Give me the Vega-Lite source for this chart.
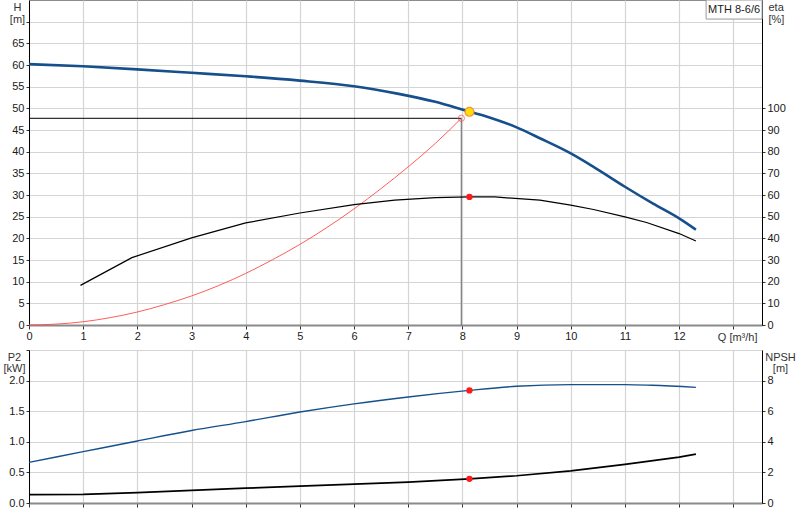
{
  "$schema": "https://vega.github.io/schema/vega-lite/v6.json",
  "padding": {"left": 2, "top": -3, "right": 0, "bottom": 0},
  "background": "white",
  "config": {
    "font": "Liberation Sans",
    "view": {"stroke": "#8c8c8c", "strokeWidth": 1},
    "axis": {"labelFontSize": 11, "labelColor": "#1a1a1a", "titleFontSize": 11, "titleFontWeight": "normal", "titleColor": "#333333", "labelOverlap": false, "gridColor": "#d4d4d4", "gridWidth": 1.2, "tickColor": "#333333"}
  },
  "datasets": {
    "head": [
      {"Q": 0, "H": 60.2}, {"Q": 1, "H": 59.7}, {"Q": 2, "H": 59.0}, {"Q": 3, "H": 58.2},
      {"Q": 4, "H": 57.4}, {"Q": 5, "H": 56.4}, {"Q": 6, "H": 55.1}, {"Q": 6.8, "H": 53.4},
      {"Q": 7.5, "H": 51.5}, {"Q": 8.13, "H": 49.2}, {"Q": 8.5, "H": 47.9}, {"Q": 9, "H": 45.6},
      {"Q": 9.43, "H": 43.1}, {"Q": 10, "H": 39.6}, {"Q": 10.42, "H": 36.5}, {"Q": 11, "H": 31.9},
      {"Q": 11.52, "H": 28.0}, {"Q": 12, "H": 24.6}, {"Q": 12.31, "H": 22.0}
    ],
    "system": [
      {"Q": 0, "H": 0}, {"Q": 0.5, "H": 0.2}, {"Q": 1, "H": 0.75}, {"Q": 1.5, "H": 1.7},
      {"Q": 2, "H": 3.0}, {"Q": 2.5, "H": 4.7}, {"Q": 3, "H": 6.7}, {"Q": 3.5, "H": 9.1},
      {"Q": 4, "H": 11.9}, {"Q": 4.5, "H": 15.1}, {"Q": 5, "H": 18.6}, {"Q": 5.5, "H": 22.5},
      {"Q": 6, "H": 26.8}, {"Q": 6.5, "H": 31.5}, {"Q": 7, "H": 36.5}, {"Q": 7.5, "H": 41.9},
      {"Q": 7.98, "H": 47.7}
    ],
    "eff": [
      {"Q": 0.95, "eta": 18.3}, {"Q": 1.9, "eta": 31.1}, {"Q": 3, "eta": 40.2}, {"Q": 4, "eta": 47.1},
      {"Q": 5, "eta": 51.7}, {"Q": 6, "eta": 55.6}, {"Q": 6.75, "eta": 57.6}, {"Q": 7.5, "eta": 58.8},
      {"Q": 8.13, "eta": 59.1}, {"Q": 8.6, "eta": 59.1}, {"Q": 9.43, "eta": 57.6}, {"Q": 10, "eta": 55.3},
      {"Q": 10.42, "eta": 53.3}, {"Q": 11, "eta": 49.9}, {"Q": 11.4, "eta": 47.3}, {"Q": 12, "eta": 42.2},
      {"Q": 12.31, "eta": 38.8}
    ],
    "hline": [{"Q": 0, "H": 47.7}, {"Q": 7.98, "H": 47.7}],
    "vline": [{"Q": 7.98, "H": 47.7}, {"Q": 7.98, "H": 0}],
    "required": [{"Q": 7.98, "H": 47.7}],
    "duty": [{"Q": 8.13, "H": 49.2, "eta": 59.1, "P2": 1.84, "NPSH": 1.58}],
    "label": [{"pump": "MTH 8-6/6"}],
    "power": [
      {"Q": 0, "P2": 0.664}, {"Q": 1, "P2": 0.839}, {"Q": 2, "P2": 1.014}, {"Q": 3, "P2": 1.184},
      {"Q": 4, "P2": 1.33}, {"Q": 5, "P2": 1.486}, {"Q": 6, "P2": 1.62}, {"Q": 7, "P2": 1.733},
      {"Q": 8.13, "P2": 1.84}, {"Q": 9, "P2": 1.907}, {"Q": 10, "P2": 1.934}, {"Q": 11, "P2": 1.934},
      {"Q": 11.5, "P2": 1.923}, {"Q": 12.31, "P2": 1.89}
    ],
    "npsh": [
      {"Q": 0, "NPSH": 0.55}, {"Q": 1, "NPSH": 0.56}, {"Q": 2, "NPSH": 0.68}, {"Q": 3, "NPSH": 0.82},
      {"Q": 4, "NPSH": 0.97}, {"Q": 5, "NPSH": 1.1}, {"Q": 6, "NPSH": 1.23}, {"Q": 7, "NPSH": 1.36},
      {"Q": 8.13, "NPSH": 1.58}, {"Q": 9, "NPSH": 1.78}, {"Q": 10, "NPSH": 2.1}, {"Q": 11, "NPSH": 2.52},
      {"Q": 12, "NPSH": 3.0}, {"Q": 12.31, "NPSH": 3.2}
    ]
  },
  "bounds": "flush",
  "spacing": 25,
  "vconcat": [
    {
      "width": 733,
      "height": 325,
      "resolve": {"scale": {"y": "independent"}},
      "layer": [
        {
          "data": {"name": "head"},
          "mark": {"type": "line", "color": "#154f8c", "strokeWidth": 2.6, "interpolate": "monotone"},
          "encoding": {
            "x": {"field": "Q", "type": "quantitative", "scale": {"domain": [0, 13.53], "nice": false, "zero": false},
              "axis": {"values": [0,1,2,3,4,5,6,7,8,9,10,11,12,13], "labelExpr": "datum.value > 12.5 ? '' : datum.label",
                "title": "Q [m³/h]", "titleX": 728, "titleY": 15, "titleAlign": "right", "titleBaseline": "alphabetic",
                "labelFlush": false, "grid": true, "domainColor": "#8a8a8a", "domainWidth": 2, "tickSize": 4, "labelPadding": 1}},
            "y": {"field": "H", "type": "quantitative", "scale": {"domain": [0, 75], "nice": false},
              "axis": {"values": [0,5,10,15,20,25,30,35,40,45,50,55,60,65,70], "labelExpr": "datum.value > 67 ? '' : datum.label",
                "title": ["H", "[m]"], "titleAngle": 0, "titleAlign": "center", "titleBaseline": "top", "titleX": -12, "titleY": 1, "titleLineHeight": 12,
                "grid": true, "domainColor": "#000000", "tickSize": 3, "labelPadding": 2}}
          }
        },
        {
          "data": {"name": "system"},
          "mark": {"type": "line", "color": "#ff4a4a", "strokeWidth": 0.9, "interpolate": "monotone"},
          "encoding": {"x": {"field": "Q", "type": "quantitative"}, "y": {"field": "H", "type": "quantitative", "scale": {"domain": [0, 75], "nice": false}, "axis": null}}
        },
        {
          "data": {"name": "hline"},
          "mark": {"type": "line", "color": "#000000", "strokeWidth": 1},
          "encoding": {"x": {"field": "Q", "type": "quantitative"}, "y": {"field": "H", "type": "quantitative", "scale": {"domain": [0, 75], "nice": false}, "axis": null}}
        },
        {
          "data": {"name": "vline"},
          "mark": {"type": "line", "color": "#7a7a7a", "strokeWidth": 1.2},
          "encoding": {"x": {"field": "Q", "type": "quantitative"}, "y": {"field": "H", "type": "quantitative", "scale": {"domain": [0, 75], "nice": false}, "axis": null}}
        },
        {
          "data": {"name": "required"},
          "mark": {"type": "point", "shape": "circle", "filled": false, "color": "#ff4a4a", "strokeWidth": 1, "size": 40},
          "encoding": {"x": {"field": "Q", "type": "quantitative"}, "y": {"field": "H", "type": "quantitative", "scale": {"domain": [0, 75], "nice": false}, "axis": null}}
        },
        {
          "data": {"name": "duty"},
          "mark": {"type": "point", "shape": "circle", "filled": true, "fill": "#ffe000", "stroke": "#ff8a3a", "strokeWidth": 1.2, "size": 80, "opacity": 1},
          "encoding": {"x": {"field": "Q", "type": "quantitative"}, "y": {"field": "H", "type": "quantitative", "scale": {"domain": [0, 75], "nice": false}, "axis": null}}
        },
        {
          "data": {"name": "eff"},
          "mark": {"type": "line", "color": "#000000", "strokeWidth": 1.2},
          "encoding": {
            "x": {"field": "Q", "type": "quantitative"},
            "y": {"field": "eta", "type": "quantitative", "scale": {"domain": [0, 150], "nice": false},
              "axis": {"orient": "right", "values": [0,10,20,30,40,50,60,70,80,90,100],
                "title": ["eta", "[%]"], "titleAngle": 0, "titleAlign": "left", "titleBaseline": "top", "titleX": 6, "titleY": 1, "titleLineHeight": 12,
                "grid": false, "domainColor": "#000000", "tickSize": 3, "labelPadding": 2}}
          }
        },
        {
          "data": {"name": "duty"},
          "mark": {"type": "point", "shape": "circle", "filled": true, "color": "#ff1a1a", "size": 40, "opacity": 1},
          "encoding": {"x": {"field": "Q", "type": "quantitative"}, "y": {"field": "eta", "type": "quantitative", "scale": {"domain": [0, 150], "nice": false}, "axis": null}}
        },
        {
          "data": {"name": "label"},
          "mark": {"type": "point", "shape": "M-1,-0.34L1,-0.34L1,0.34L-1,0.34Z", "size": 3136, "filled": true, "fill": "white", "stroke": "#9a9a9a", "strokeWidth": 1, "opacity": 1},
          "encoding": {"x": {"datum": 13.015, "type": "quantitative"}, "y": {"datum": 72.8, "type": "quantitative", "scale": {"domain": [0, 75], "nice": false}, "axis": null}}
        },
        {
          "data": {"name": "label"},
          "mark": {"type": "text", "fontSize": 11, "color": "#1a1a1a", "align": "center", "baseline": "middle"},
          "encoding": {"text": {"field": "pump"}, "x": {"datum": 13.015, "type": "quantitative"}, "y": {"datum": 72.8, "type": "quantitative", "scale": {"domain": [0, 75], "nice": false}, "axis": null}}
        }
      ]
    },
    {
      "width": 733,
      "height": 153,
      "resolve": {"scale": {"y": "independent"}},
      "layer": [
        {
          "data": {"name": "power"},
          "mark": {"type": "line", "color": "#154f8c", "strokeWidth": 1.4, "interpolate": "monotone"},
          "encoding": {
            "x": {"field": "Q", "type": "quantitative", "scale": {"domain": [0, 13.53], "nice": false, "zero": false},
              "axis": {"values": [0,1,2,3,4,5,6,7,8,9,10,11,12,13], "labels": false, "title": null,
                "grid": true, "domainColor": "#8a8a8a", "domainWidth": 2, "tickSize": 4}},
            "y": {"field": "P2", "type": "quantitative", "scale": {"domain": [0, 2.5], "nice": false},
              "axis": {"values": [0, 0.5, 1, 1.5, 2, 2.5], "format": ".1f", "labelExpr": "datum.value > 2.2 ? '' : datum.label",
                "title": ["P2", "[kW]"], "titleAngle": 0, "titleAlign": "center", "titleBaseline": "top", "titleX": -15, "titleY": 1, "titleLineHeight": 11,
                "grid": true, "domainColor": "#000000", "tickSize": 3, "labelPadding": 2}}
          }
        },
        {
          "data": {"name": "duty"},
          "mark": {"type": "point", "shape": "circle", "filled": true, "color": "#ff1a1a", "size": 40, "opacity": 1},
          "encoding": {"x": {"field": "Q", "type": "quantitative"}, "y": {"field": "P2", "type": "quantitative", "scale": {"domain": [0, 2.5], "nice": false}, "axis": null}}
        },
        {
          "data": {"name": "npsh"},
          "mark": {"type": "line", "color": "#000000", "strokeWidth": 1.7},
          "encoding": {
            "x": {"field": "Q", "type": "quantitative"},
            "y": {"field": "NPSH", "type": "quantitative", "scale": {"domain": [0, 10], "nice": false},
              "axis": {"orient": "right", "values": [0, 2, 4, 6, 8],
                "title": ["NPSH", "[m]"], "titleAngle": 0, "titleAlign": "center", "titleBaseline": "top", "titleX": 18, "titleY": 1, "titleLineHeight": 11,
                "grid": false, "domainColor": "#000000", "tickSize": 3, "labelPadding": 2}}
          }
        },
        {
          "data": {"name": "duty"},
          "mark": {"type": "point", "shape": "circle", "filled": true, "color": "#ff1a1a", "size": 40, "opacity": 1},
          "encoding": {"x": {"field": "Q", "type": "quantitative"}, "y": {"field": "NPSH", "type": "quantitative", "scale": {"domain": [0, 10], "nice": false}, "axis": null}}
        }
      ]
    }
  ]
}
